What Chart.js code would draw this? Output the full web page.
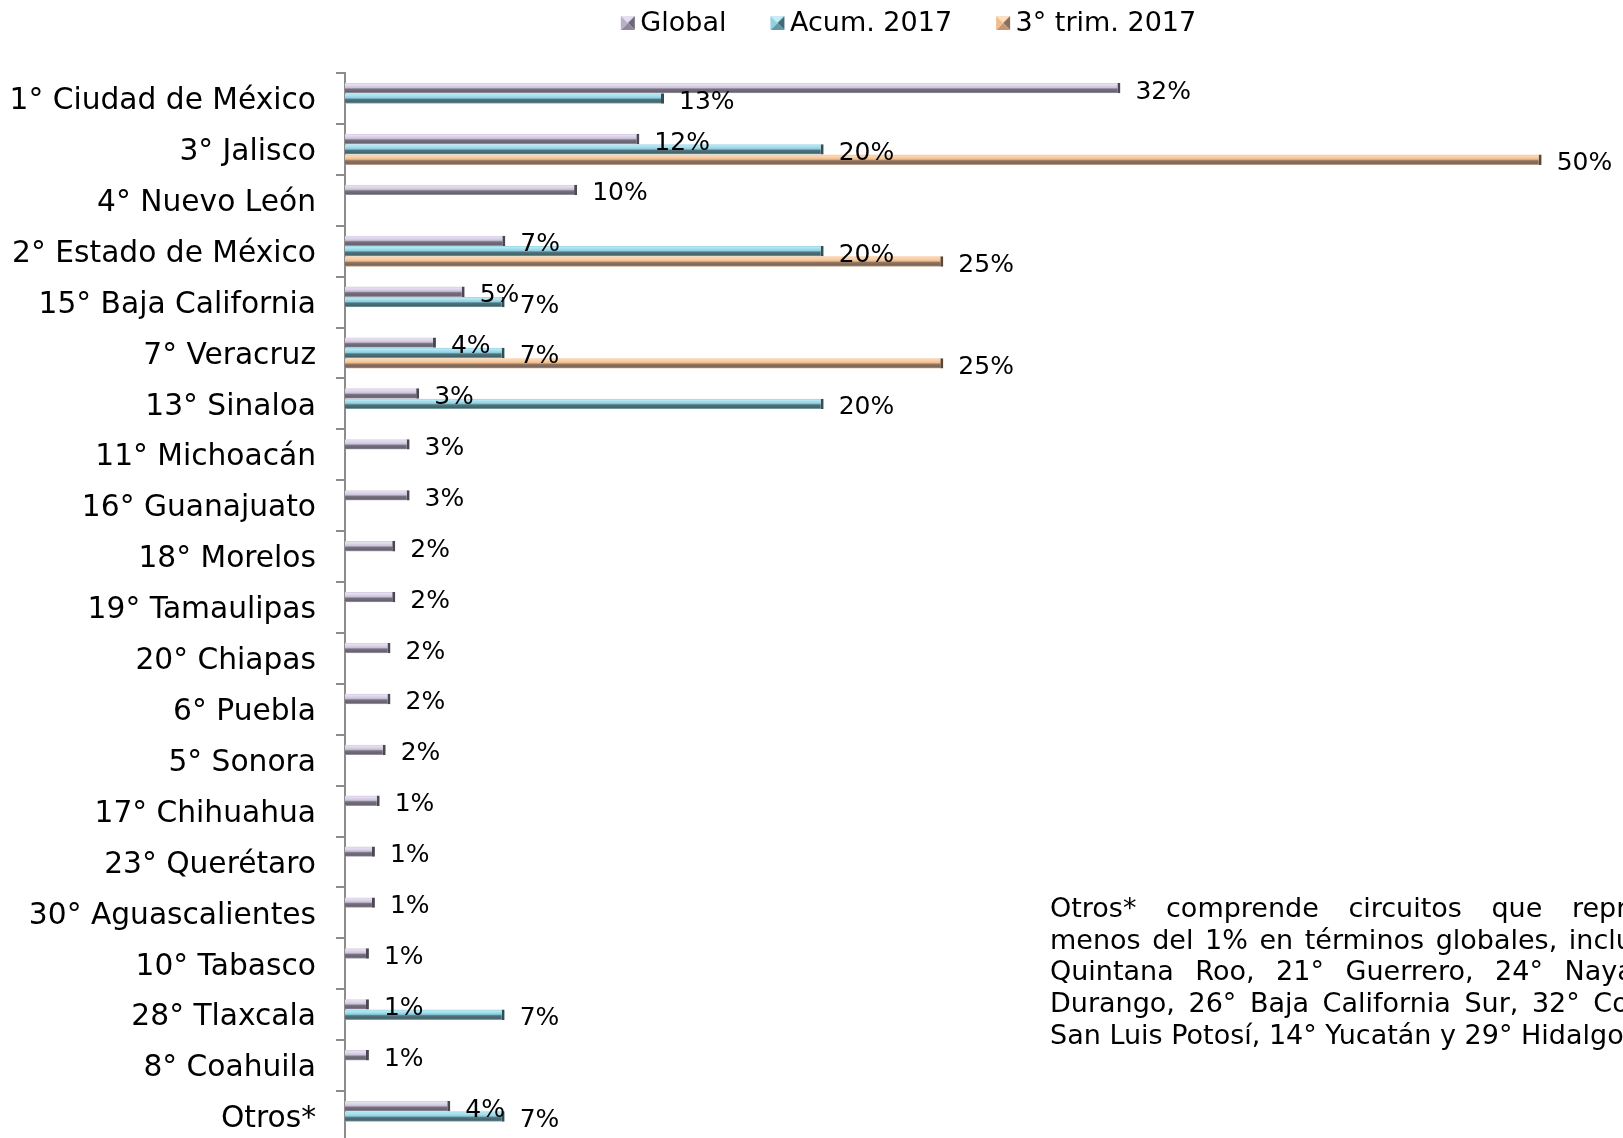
<!DOCTYPE html>
<html>
<head>
<meta charset="utf-8">
<script src="https://cdn.jsdelivr.net/npm/chart.js@4.4.0/dist/chart.umd.min.js"></script>
<style>
  html, body { margin: 0; padding: 0; background: #fff; overflow: hidden; }
  #wrap { position: relative; width: 1623px; height: 1142px; }
  #note {
    position: absolute; left: 1050px; top: 892px; white-space: nowrap;
    font-family: 'DejaVu Sans', Verdana, sans-serif; font-size: 27px; line-height: 31.7px; color: #000;
  }
</style>
</head>
<body>
<div id="wrap">
  <canvas id="chart" width="1623" height="1142"></canvas>
  <div id="note">
    <div style="word-spacing: 21px">Otros* comprende circuitos que representan</div>
    <div style="word-spacing: 3px">menos del 1% en términos globales, incluyendo</div>
    <div style="word-spacing: 13px">Quintana Roo, 21° Guerrero, 24° Nayarit,</div>
    <div style="word-spacing: 5px">Durango, 26° Baja California Sur, 32° Colima,</div>
    <div>San Luis Potosí, 14° Yucatán y 29° Hidalgo.</div>
  </div>
</div>
<script>
// data
const categories = [
    '1° Ciudad de México', '3° Jalisco', '4° Nuevo León', '2° Estado de México',
    '15° Baja California', '7° Veracruz', '13° Sinaloa', '11° Michoacán',
    '16° Guanajuato', '18° Morelos', '19° Tamaulipas', '20° Chiapas',
    '6° Puebla', '5° Sonora', '17° Chihuahua', '23° Querétaro',
    '30° Aguascalientes', '10° Tabasco', '28° Tlaxcala', '8° Coahuila', 'Otros*'
];
const seriesNames = ['Global', 'Acum. 2017', '3° trim. 2017'];
const globalValues = [32.4, 12.3, 9.7, 6.7, 5.0, 3.8, 3.1, 2.7, 2.7, 2.1, 2.1, 1.9, 1.9, 1.7, 1.45, 1.25, 1.25, 1.0, 1.0, 1.0, 4.4];
const acumValues = [13.33, 20, null, 20, 6.67, 6.67, 20, null, null, null, null, null, null, null, null, null, null, null, 6.67, null, 6.67];
const trimValues = [null, 50, null, 25, null, 25, null, null, null, null, null, null, null, null, null, null, null, null, null, null, null];

const X_MAX = 53.4;
const CAT_PCT = 0.61;
const FONT = "'DejaVu Sans', Verdana, sans-serif";

// gradient stops for the bevelled bars: [stop, colour]
const globalShade = [[0, '#d2c9e0'], [0.15, '#e6dff0'], [0.45, '#cdc3dc'], [0.6, '#77717f'], [0.85, '#67626f'], [1, '#aba4b6']];
const acumShade = [[0, '#98d2e2'], [0.15, '#b6e8f4'], [0.45, '#8dcfe1'], [0.6, '#4f747c'], [0.85, '#44646b'], [1, '#8ab4be']];
const trimShade = [[0, '#f4c293'], [0.15, '#fcd8b3'], [0.45, '#f1bc8a'], [0.6, '#8e7362'], [0.85, '#7c6555'], [1, '#c9a78a']];

function barFill(shade) {
    return function(ctx) {
        const chart = ctx.chart;
        const y = chart.scales.y;
        if (!chart.chartArea || !y || ctx.dataIndex === undefined) return shade[2][1];
        const band = y.height / categories.length;
        const thick = band * CAT_PCT / 3;
        const center = y.getPixelForValue(ctx.dataIndex) + (ctx.datasetIndex - 1) * thick;
        const g = chart.ctx.createLinearGradient(0, center - thick / 2, 0, center + thick / 2);
        shade.forEach(s => g.addColorStop(s[0], s[1]));
        return g;
    };
}

// little pyramid squares for the legend (square sits at the right of the image)
function legendMarker(light, mid, dark, darker) {
    const c = document.createElement('canvas');
    c.width = 58; c.height = 17;
    const g = c.getContext('2d');
    const s = 14, x0 = 58 - s - 1, y0 = 1, cx = x0 + s / 2, cy = y0 + s / 2;
    const tri = (pts, col) => {
        g.beginPath();
        g.moveTo(pts[0], pts[1]); g.lineTo(pts[2], pts[3]); g.lineTo(cx, cy);
        g.closePath(); g.fillStyle = col; g.fill();
    };
    tri([x0, y0, x0 + s, y0], light);
    tri([x0 + s, y0, x0 + s, y0 + s], darker);
    tri([x0, y0 + s, x0 + s, y0 + s], dark);
    tri([x0, y0, x0, y0 + s], mid);
    return c;
}
const markers = [
    legendMarker('#e4def0', '#b9afc9', '#8f879c', '#6e6878'),
    legendMarker('#c6eef8', '#8fd0e2', '#5f98a6', '#3f6c76'),
    legendMarker('#fde0c2', '#f2bd8c', '#c79770', '#8c6f58')
];

const valueLabels = {
    id: 'valueLabels',
    afterDatasetsDraw(chart) {
        const ctx = chart.ctx;
        ctx.save();
        ctx.font = '25px ' + FONT;
        ctx.fillStyle = '#000';
        ctx.textBaseline = 'middle';
        ctx.textAlign = 'left';
        chart.data.datasets.forEach((ds, i) => {
            chart.getDatasetMeta(i).data.forEach((bar, j) => {
                const v = ds.data[j];
                if (v === null || v === undefined) return;
                ctx.fillText(Math.round(v) + '%', bar.x + 15, bar.y + 4);
            });
        });
        ctx.restore();
    }
};

const LEGEND_EXTRA = 26;
const LEGEND_SHIFT = 80;
const legendTweak = {
    id: 'legendTweak',
    beforeInit(chart) {
        const fit = chart.legend.fit;
        chart.legend.fit = function() {
            fit.call(this);
            this.height += LEGEND_EXTRA;
        };
    },
    afterLayout(chart) {
        chart.legend.left += LEGEND_SHIFT;
        chart.legend.right += LEGEND_SHIFT;
    }
};

new Chart(document.getElementById('chart'), {
    type: 'bar',
    data: {
        labels: categories,
        datasets: [
            { label: seriesNames[0], data: globalValues, backgroundColor: barFill(globalShade), borderColor: '#4a4652' },
            { label: seriesNames[1], data: acumValues, backgroundColor: barFill(acumShade), borderColor: '#2f4f55' },
            { label: seriesNames[2], data: trimValues, backgroundColor: barFill(trimShade), borderColor: '#5b4636' }
        ]
    },
    options: {
        indexAxis: 'y',
        responsive: false,
        animation: false,
        devicePixelRatio: 1,
        layout: { padding: { top: 0, right: 0, bottom: 0, left: 0 } },
        datasets: {
            bar: {
                categoryPercentage: CAT_PCT,
                barPercentage: 1,
                borderWidth: { top: 0, right: 3, bottom: 0, left: 0 },
                borderSkipped: false
            }
        },
        plugins: {
            tooltip: { enabled: false },
            legend: {
                position: 'top',
                labels: {
                    usePointStyle: true,
                    pointStyleWidth: 40,
                    padding: 10,
                    color: '#000',
                    font: { family: FONT, size: 27 },
                    generateLabels: function(chart) {
                        return chart.data.datasets.map((ds, i) => ({
                            text: ds.label,
                            pointStyle: markers[i],
                            fillStyle: 'transparent',
                            strokeStyle: 'transparent',
                            lineWidth: 0,
                            hidden: false,
                            datasetIndex: i
                        }));
                    }
                }
            }
        },
        scales: {
            x: { display: false, min: 0, max: X_MAX },
            y: {
                afterFit: function(scale) {
                    scale.width = 345;
                    scale.paddingTop = 0;
                    scale.paddingBottom = 0;
                },
                ticks: { color: '#000', padding: 20, labelOffset: 3, font: { family: FONT, size: 29.7 } },
                grid: { drawOnChartArea: false, offset: true, tickLength: 9, color: '#8c8c8c', lineWidth: 2 },
                border: { color: '#8c8c8c', width: 2 }
            }
        }
    },
    plugins: [valueLabels, legendTweak]
});
</script>
</body>
</html>
